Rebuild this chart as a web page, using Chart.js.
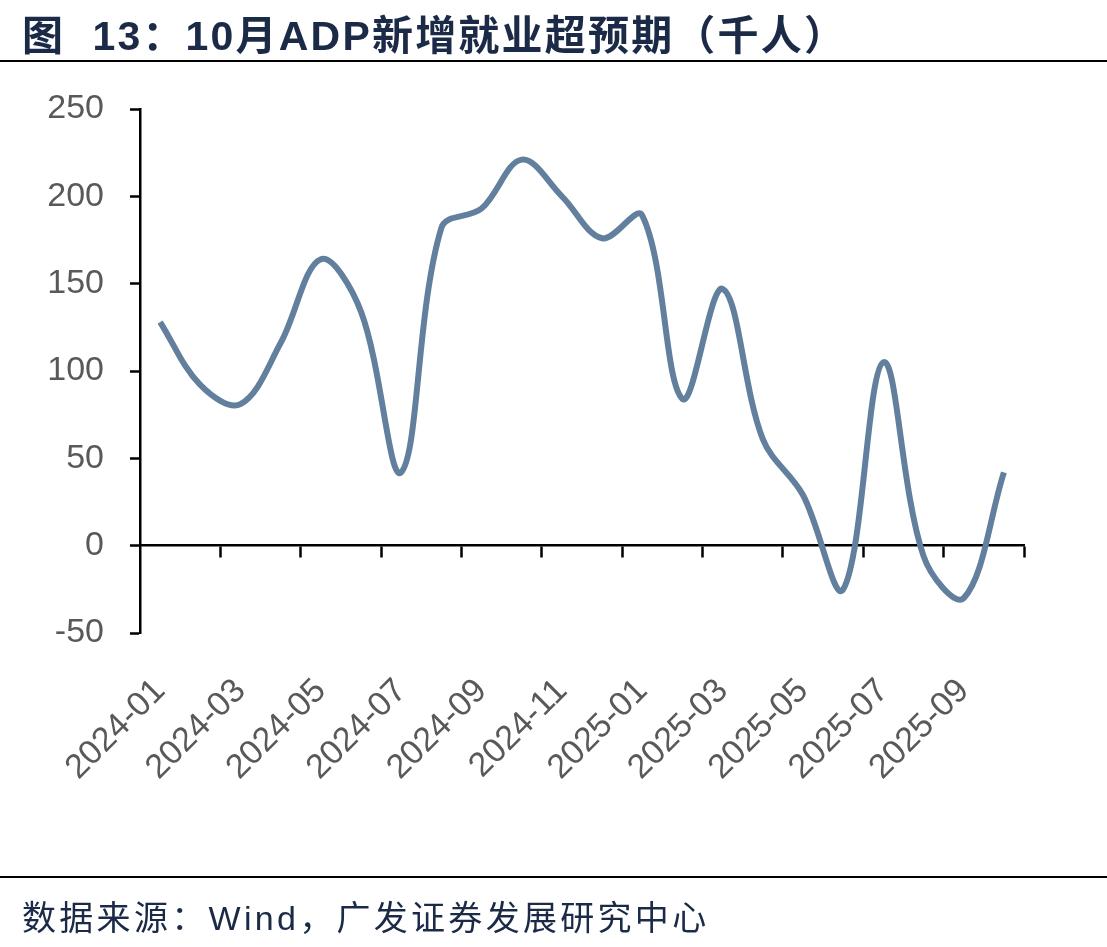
<!DOCTYPE html>
<html>
<head>
<meta charset="utf-8">
<script src="https://cdn.jsdelivr.net/npm/chart.js@4.4.1/dist/chart.umd.min.js"></script>
<style>
  body { margin: 0; background: #fff; width: 1107px; height: 947px; overflow: hidden; position: relative; }
  .title { position: absolute; left: 22px; top: 2px; font: bold 41px "Liberation Sans", Arial, "Noto Sans CJK SC", sans-serif; letter-spacing: 2.2px; color: #1b2a46; white-space: nowrap; }
  .rule { position: absolute; left: 0; width: 1107px; height: 2px; background: #000; }
  .src { position: absolute; left: 22px; top: 891px; font: 34px "Liberation Sans", Arial, "Noto Sans CJK SC", sans-serif; letter-spacing: 3.3px; color: #1b2a46; white-space: nowrap; }
  #wrap { position: absolute; left: 0; top: 0; width: 1107px; height: 947px; }
</style>
</head>
<body>
<div id="wrap"><canvas id="line" width="1107" height="947"></canvas></div>
<div class="title">图&nbsp; 13：10月ADP新增就业超预期（千人）</div>
<div class="rule" style="top:60px"></div>
<div class="rule" style="top:876px"></div>
<div class="src">数据来源：Wind，广发证券发展研究中心</div>
<script>
let months = ['2024-01', '2024-02', '2024-03', '2024-04', '2024-05', '2024-06', '2024-07', '2024-08', '2024-09', '2024-10', '2024-11', '2024-12',
    '2025-01', '2025-02', '2025-03', '2025-04', '2025-05', '2025-06', '2025-07', '2025-08', '2025-09', '2025-10']
let adp = [128, 92, 81, 116, 164, 134, 42, 182, 193, 221, 200, 176,
    189, 84, 147, 61, 29, -25, 105, -6, -30, 42]
let yTicks = [-50, 0, 50, 100, 150, 200, 250]

// tick marks on the zero line every two months (and at the right end)
let showTick = c => c.index === undefined || (c.index % 2 === 0 && c.index > 0)

const ctx = document.getElementById('line').getContext('2d');
const myChart = new Chart(ctx, {
    type: 'line',
    data: {
        labels: months,
        datasets: [{
            data: adp,
            borderColor: '#62809d',
            borderWidth: 6,
            pointRadius: 0,
            tension: 0.36,
            fill: false
        }]
    },
    options: {
        responsive: false,
        animation: false,
        layout: { padding: { left: 0, right: 83, top: 109, bottom: 0 } },
        plugins: { legend: { display: false }, tooltip: { enabled: false } },
        scales: {
            x: {
                position: 'bottom',
                offset: true,
                grid: { display: false },
                border: { display: false },
                ticks: {
                    autoSkip: false,
                    minRotation: 45,
                    maxRotation: 45,
                    padding: 30,
                    color: '#595959',
                    font: { family: 'Liberation Sans', size: 34 },
                    callback: (v, i) => i % 2 === 0 ? months[i] : ''
                },
                afterFit: s => { s.height = 947 - 633 }
            },
            x0: {
                type: 'category',
                position: { y: 0 },
                offset: true,
                ticks: { display: false },
                border: { display: true, color: '#000', width: 2.5 },
                grid: {
                    offset: true,
                    drawOnChartArea: false,
                    tickLength: 11,
                    tickWidth: 2.5,
                    tickColor: c => showTick(c) ? '#000' : 'rgba(0,0,0,0)'
                }
            },
            y: {
                min: -50,
                max: 250,
                afterBuildTicks: s => { s.ticks = yTicks.map(v => ({ value: v })) },
                border: { display: true, color: '#000', width: 2.5 },
                grid: { drawOnChartArea: false, tickLength: 10, tickWidth: 2.5, tickColor: '#000' },
                ticks: {
                    padding: 26,
                    color: '#595959',
                    font: { family: 'Liberation Sans', size: 34 }
                },
                afterFit: s => { s.width = 140 }
            }
        }
    }
});
</script>
</body>
</html>
